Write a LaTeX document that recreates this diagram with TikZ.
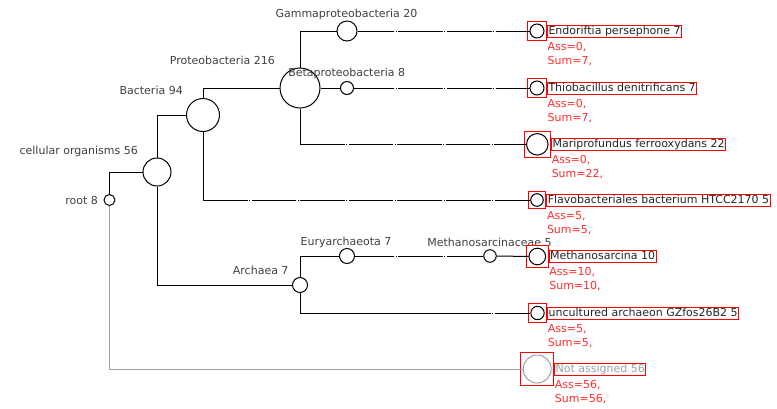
\documentclass[tikz,border=0pt]{standalone}
\usepackage{fontspec}
\setmainfont{DejaVu Sans}
\usetikzlibrary{positioning,fit}
\definecolor{vermelho}{RGB}{255,45,45}
\definecolor{cinza}{RGB}{160,160,160}

\begin{document}
\begin{tikzpicture}[x=1pt, y=-1pt,
    circulo/.style={circle, draw, line width=1pt, inner sep=0pt, minimum size=#1},
    ramo/.style={line width=1pt},
    tracejado/.style={ramo, dash pattern=on 44.6pt off 1.5pt on 1pt off 1.5pt},
    rotulo/.style={font=\fontsize{11}{14}\selectfont, text=black!75, inner sep=0pt},
    caixa/.style={draw=red, line width=1pt, inner sep=2pt},
    folha/.style={draw=red, line width=1pt, font=\fontsize{11}{14}\selectfont, text=black!85,
        text height=8.5pt, text depth=2.5pt, inner xsep=1pt, inner ysep=0.5pt},
    contagem/.style={font=\fontsize{11}{14}\selectfont, text=vermelho, align=left, inner sep=0pt}]

    \useasboundingbox (0,0) rectangle (777,408);

    % Nós internos
    \node[circulo=11pt] (root) at (109.5,200) {};
    \node[circulo=28pt] (cell) at (157,172) {};
    \node[circulo=33pt] (bact) at (203,115) {};
    \node[circulo=40pt] (proteo) at (300,88) {};
    \node[circulo=20pt] (gamma) at (347,31) {};
    \node[circulo=13pt] (beta) at (347,88) {};
    \node[circulo=15pt] (arch) at (300,285) {};
    \node[circulo=15pt] (eury) at (347,256) {};
    \node[circulo=12.5pt] (msceae) at (490,256) {};

    % Rótulos dos nós internos
    \node[rotulo, anchor=base east] (rootl) at (98,204) {root 8};
    \node[rotulo, anchor=base east] (celll) at (138,154) {cellular organisms 56};
    \node[rotulo, anchor=base east] (bactl) at (183,94) {Bacteria 94};
    \node[rotulo, anchor=base east] (proteol) at (275,64) {Proteobacteria 216};
    \node[rotulo, anchor=base] (gammal) at (346.5,17) {Gammaproteobacteria 20};
    \node[rotulo, anchor=base] (betal) at (346.7,76) {Betaproteobacteria 8};
    \node[rotulo, anchor=base east] (archl) at (288.7,274) {Archaea 7};
    \node[rotulo, anchor=base] (euryl) at (346,245) {Euryarchaeota 7};
    \node[rotulo, anchor=base] (msceael) at (489.5,246) {Methanosarcinaceae 5};

    % Folhas
    \node[circulo=14pt] (endo) at (537,31) {};
    \node[caixa, fit=(endo)] (endoq) {};
    \node[folha, right=0pt of endoq] (endot) {Endoriftia persephone 7};
    \node[contagem, below right=4.5pt and 0.5pt of endot.south west] (endoc) {Ass=0,\\Sum=7,};

    \node[circulo=14pt] (thio) at (537,88) {};
    \node[caixa, fit=(thio)] (thioq) {};
    \node[folha, right=0pt of thioq] (thiot) {Thiobacillus denitrificans 7};
    \node[contagem, below right=4.5pt and 0.5pt of thiot.south west] (thioc) {Ass=0,\\Sum=7,};

    \node[circulo=21.5pt] (mari) at (537.3,144.3) {};
    \node[caixa, fit=(mari)] (mariq) {};
    \node[folha, right=0pt of mariq] (marit) {Mariprofundus ferrooxydans 22};
    \node[contagem, below right=4.5pt and 0.5pt of marit.south west] (maric) {Ass=0,\\Sum=22,};

    \node[circulo=12.6pt] (flavo) at (537,200) {};
    \node[caixa, fit=(flavo)] (flavoq) {};
    \node[folha, right=0pt of flavoq] (flavot) {Flavobacteriales bacterium HTCC2170 5};
    \node[contagem, below right=4.5pt and 0.5pt of flavot.south west] (flavoc) {Ass=5,\\Sum=5,};

    \node[circulo=16.6pt] (msc) at (537.3,256.5) {};
    \node[caixa, fit=(msc)] (mscq) {};
    \node[folha, right=0pt of mscq] (msct) {Methanosarcina 10};
    \node[contagem, below right=4.5pt and 0.5pt of msct.south west] (mscc) {Ass=10,\\Sum=10,};

    \node[circulo=13.4pt] (unc) at (537.5,313) {};
    \node[caixa, fit=(unc)] (uncq) {};
    \node[folha, right=0pt of uncq] (unct) {uncultured archaeon GZfos26B2 5};
    \node[contagem, below right=4.5pt and 0.5pt of unct.south west] (uncc) {Ass=5,\\Sum=5,};

    \node[circulo=28pt, draw=cinza] (nao) at (537.2,369) {};
    \node[caixa, fit=(nao)] (naoq) {};
    \node[folha, text=cinza, right=0pt of naoq] (naot) {Not assigned 56};
    \node[contagem, below right=4.5pt and 0.5pt of naot.south west] (naoc) {Ass=56,\\Sum=56,};

    % Ramos
    \draw[ramo] (root) |- (cell);
    \draw[ramo] (cell) |- (bact);
    \draw[ramo] (cell) |- (arch);
    \draw[ramo] (bact) |- (proteo);
    \draw[ramo] (bact) -- (bact |- flavo);
    \draw[tracejado] (bact |- flavo) -- (flavo);
    \draw[ramo] (proteo) |- (gamma);
    \draw[ramo] (proteo) -- (beta);
    \draw[ramo] (proteo) -- (proteo |- mari);
    \draw[tracejado] (proteo |- mari) -- (mari);
    \draw[tracejado, dash phase=7.8pt] (gamma) -- (endo);
    \draw[tracejado, dash phase=4.3pt] (beta) -- (thio);
    \draw[ramo] (arch) |- (eury);
    \draw[tracejado, dash phase=5.3pt] (eury) -- (msceae);
    \draw[ramo] (msceae) -- (msc);
    \coordinate (uncx) at (490.9,313);
    \draw[ramo] (arch) |- (uncx);
    \draw[tracejado, dash phase=44.6pt] (uncx) -- (unc);
    \draw[ramo, draw=cinza] (root) |- (nao);
\end{tikzpicture}
\end{document}
